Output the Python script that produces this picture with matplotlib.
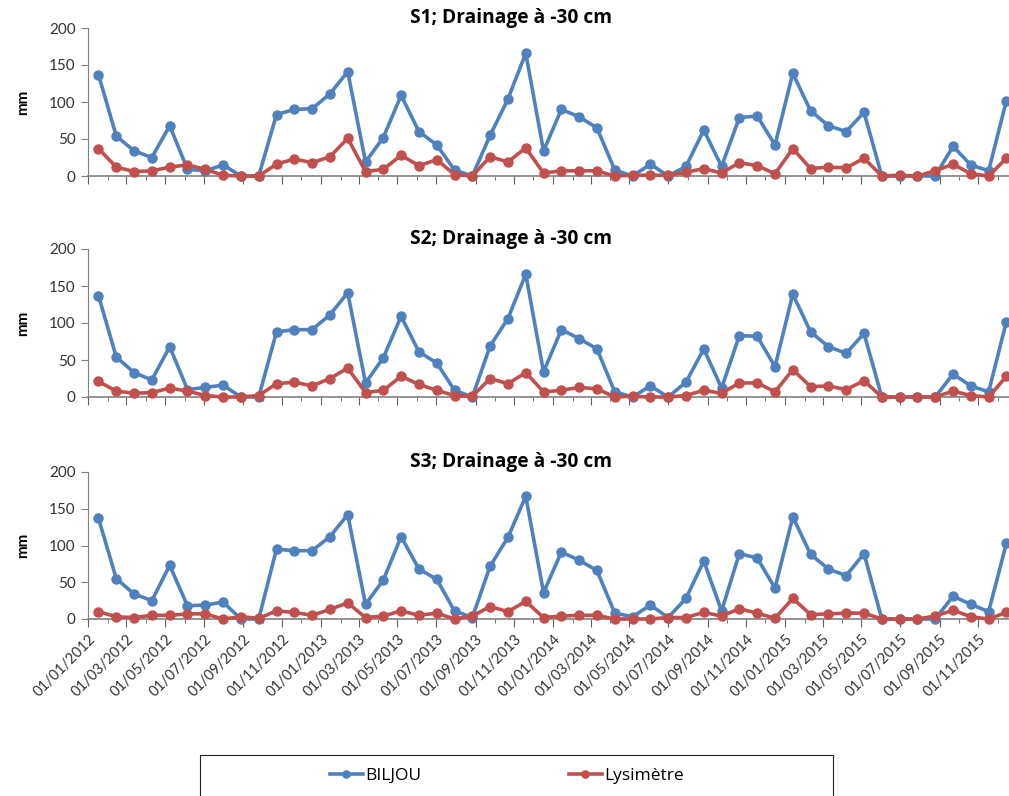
import matplotlib
matplotlib.use("Agg")
import matplotlib.pyplot as plt
import matplotlib.dates as mdates
from matplotlib.patches import Rectangle
import numpy as np
import pandas as pd

plt.rcParams['font.family'] = ['Lato', 'DejaVu Sans']

# 4-week periods, starting mid January 2012
dates = pd.date_range("2012-01-17", periods=52, freq="28D")

titles = ["S1; Drainage à -30 cm", "S2; Drainage à -30 cm", "S3; Drainage à -30 cm"]
series_names = ["BILJOU", "Lysimètre"]

biljou_s1 = [137, 54, 34, 25, 68, 9, 7, 15, 0, 0, 83, 90, 91, 111, 141, 19, 52, 109, 60, 42, 8, 0, 55, 104,
             166, 34, 90, 80, 65, 8, 0, 16, 0, 13, 62, 13, 79, 81, 42, 139, 88, 68, 60, 86, 0, 0, 0, 0,
             40, 15, 7, 102]
lysi_s1 = [37, 12, 6, 7, 12, 15, 9, 1, 0, 0, 16, 23, 18, 26, 51, 6, 9, 28, 14, 22, 2, 0, 26, 19,
           38, 4, 7, 7, 7, 0, 1, 1, 1, 5, 10, 4, 18, 14, 3, 37, 10, 12, 11, 24, 0, 1, 0, 7,
           16, 3, 0, 24]

biljou_s2 = [137, 54, 33, 23, 68, 10, 13, 16, 0, 0, 88, 91, 91, 111, 141, 19, 53, 109, 61, 46, 9, 0, 69, 106,
             166, 34, 91, 79, 65, 7, 0, 15, 0, 20, 65, 12, 83, 82, 41, 139, 88, 68, 59, 86, 0, 0, 0, 0,
             31, 15, 7, 102]
lysi_s2 = [21, 8, 5, 6, 12, 8, 2, 0, 0, 2, 18, 20, 15, 25, 39, 6, 9, 28, 17, 9, 2, 1, 25, 18,
           33, 7, 9, 13, 11, 0, 1, 0, 0, 2, 9, 5, 19, 19, 7, 37, 14, 15, 10, 22, 0, 0, 0, 0,
           8, 2, 0, 28]

biljou_s3 = [137, 55, 34, 25, 73, 18, 19, 23, 0, 0, 95, 93, 93, 112, 142, 20, 53, 112, 68, 54, 11, 2, 72, 111,
             167, 36, 91, 80, 66, 8, 3, 19, 2, 28, 79, 11, 89, 83, 42, 139, 88, 68, 59, 89, 0, 0, 0, 0,
             31, 20, 10, 103]
lysi_s3 = [10, 3, 2, 5, 5, 7, 7, 0, 3, 1, 11, 9, 5, 13, 22, 2, 4, 11, 5, 8, 0, 4, 17, 10,
           24, 2, 4, 5, 5, 0, 0, 0, 2, 2, 9, 4, 14, 8, 1, 28, 6, 7, 8, 8, 0, 0, 0, 4,
           12, 3, 0, 9]

biljou = [biljou_s1, biljou_s2, biljou_s3]
lysi = [lysi_s1, lysi_s2, lysi_s3]

blue = "#4F81BD"
red = "#C0504D"
W, H = 1009, 796

fig = plt.figure(figsize=(W / 100, H / 100), dpi=100)

# panel pixel extents: (top of 200 line, y of 0 line)
panels = [(28, 176), (249, 397), (472, 619)]
x_left, x_right = 88.3, 1016.6

xmin = pd.Timestamp("2012-01-01")
xmax = pd.Timestamp("2015-12-31")

for k, (top, bot) in enumerate(panels):
    ax = fig.add_axes([x_left / W, 1 - bot / H, (x_right - x_left) / W, (bot - top) / H])
    l1, = ax.plot(dates, biljou[k], color=blue, lw=2.6, marker="o", ms=6.5, zorder=3, clip_on=False)
    l2, = ax.plot(dates, lysi[k], color=red, lw=2.6, marker="o", ms=6.5, zorder=4, clip_on=False)
    ax.set_xlim(xmin, xmax)
    ax.set_ylim(0, 200)
    ax.set_yticks([0, 50, 100, 150, 200])
    for s in ["top", "right"]:
        ax.spines[s].set_visible(False)
    ax.spines["left"].set_color("#808080")
    ax.spines["bottom"].set_color("#808080")
    ax.spines["bottom"].set_linewidth(1.2)
    ax.xaxis.set_major_locator(mdates.MonthLocator(bymonth=[1, 3, 5, 7, 9, 11]))
    ax.xaxis.set_minor_locator(mdates.MonthLocator())
    ax.xaxis.set_major_formatter(mdates.DateFormatter("%d/%m/%Y"))
    ax.tick_params(axis="x", which="major", length=6, color="#606060", direction="out")
    ax.tick_params(axis="x", which="minor", length=3, color="#606060", direction="out")
    ax.tick_params(axis="y", length=5, color="#808080", labelsize=11, labelcolor="#333333", pad=4)
    if k < 2:
        ax.tick_params(axis="x", labelbottom=False)
    else:
        for lab in ax.get_xticklabels():
            lab.set_rotation(45)
            lab.set_ha("right")
            lab.set_va("top")
            lab.set_fontsize(10.5)
            lab.set_color("#333333")
            lab.set_rotation_mode("anchor")
    ax.set_ylabel("mm", fontsize=11, fontweight="bold", labelpad=14)
    fig.text(511 / W, 1 - (top - 10) / H, titles[k], ha="center", va="center",
             fontsize=13.8, fontweight="bold", family=["Open Sans", "DejaVu Sans"])

# legend box (clipped at the bottom of the picture)
fig.patches.append(Rectangle((200 / W, -0.02), 633 / W, (796 - 755) / H + 0.02,
                             transform=fig.transFigure, fill=False, edgecolor="#222222", lw=0.8))
for handle, name, xpos in [(l1, series_names[0], 330), (l2, series_names[1], 569)]:
    fig.legend([handle], [name], loc="center left", frameon=False,
               bbox_to_anchor=(xpos / W, 1 - 776 / H), borderaxespad=0, borderpad=0,
               prop={"family": ["Open Sans", "DejaVu Sans"], "size": 12.5},
               handlelength=1.9, handletextpad=0.15, markerscale=0.8)

fig.savefig("out.png", dpi=100)
